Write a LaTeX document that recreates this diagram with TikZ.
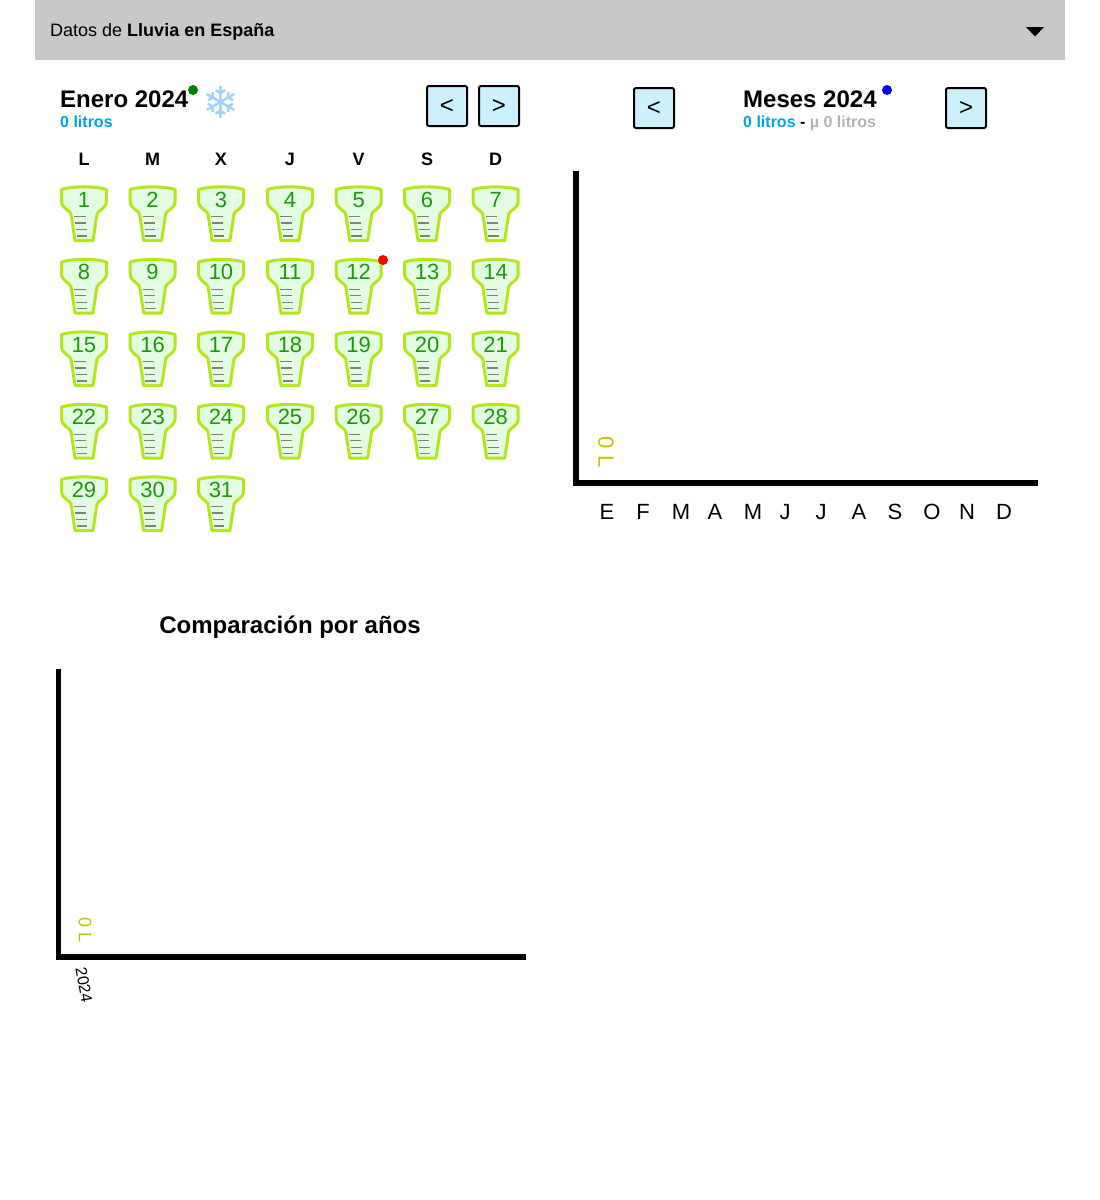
\documentclass[tikz,border=0pt]{standalone}
\usepackage{fontspec}
\setmainfont{Liberation Sans}
\newfontfamily\flakefont{DejaVu Sans}
\definecolor{headerGray}{HTML}{C8C8C8}
\definecolor{buttonBlue}{HTML}{CCF0FF}
\definecolor{litrosBlue}{HTML}{00A2E8}
\definecolor{mediaGray}{HTML}{B4B4B4}
\definecolor{glassLine}{HTML}{B5E61D}
\definecolor{glassFill}{HTML}{E3FDE3}
\definecolor{dayGreen}{HTML}{1A9A0A}
\definecolor{axisYellow}{HTML}{C3C300}
\definecolor{flakeBlue}{HTML}{A0D2F5}

\begin{document}
\begin{tikzpicture}
[x=1pt,y=-1pt,
  glassDecorate/.style={draw=glassLine,fill=glassFill,line width=3pt,line join=round},
  tickDecorate/.style={draw=black!50,line width=1.3pt},
  dayDecorate/.style={text=dayGreen,font=\fontsize{22}{24}\selectfont,inner sep=0pt},
  weekDecorate/.style={font=\bfseries\fontsize{18}{20}\selectfont,inner sep=0pt},
  buttonDecorate/.style={shape=rectangle,draw,fill=buttonBlue,line width=2pt,rounded corners=2pt,
    minimum width=40pt,minimum height=40pt,inner sep=0pt,font=\fontsize{24}{26}\selectfont},
  titleDecorate/.style={anchor=base west,inner sep=0pt,font=\bfseries\fontsize{24}{26}\selectfont},
  litrosDecorate/.style={anchor=base west,inner sep=0pt,font=\bfseries\fontsize{16}{18}\selectfont},
  monthDecorate/.style={inner sep=0pt,font=\fontsize{22}{24}\selectfont},
  axisDecorate/.style={draw,line width=6pt,line join=miter},
  zeroDecorate/.style={text=axisYellow,inner sep=0pt,rotate=-90}]
\useasboundingbox (0,0) rectangle (1100,1200);
%% header
\fill[headerGray] (35,0) rectangle (1065,60);
\node (header) at (50,36) [anchor=base west,inner sep=0pt,font=\fontsize{18}{20}\selectfont]
  {Datos de \textbf{Lluvia en España}};
\fill (1026,27) -- (1044,27) -- (1035,36.5) -- cycle;
%% january title
\node (enero) at (60,107) [titleDecorate] {Enero 2024};
\node (eneroLitros) at (60,127) [litrosDecorate,text=litrosBlue] {0 litros};
\fill[green!50!black] (193,90) circle (5);
\node (flake) at (221,102) [inner sep=0pt,text=flakeBlue,font=\flakefont\fontsize{44}{46}\selectfont] {❄};
\node (eneroPrev) at (447,106) [buttonDecorate] {\raisebox{-3pt}{<}};
\node (eneroNext) at (499,106) [buttonDecorate] {\raisebox{-3pt}{>}};
%% weekdays
\foreach \weekname/\x in {L/84, M/152.6, X/221, J/290, V/358.7, S/427, D/495.7}
{
  \node (week\weekname\x) at (\x,159) [weekDecorate] {\weekname};
}
%% glasses of the calendar
\foreach \daynum/\x/\y in {
  1/84/186, 2/152.6/186, 3/221/186, 4/290/186, 5/358.7/186, 6/427/186, 7/495.7/186,
  8/84/258.5, 9/152.6/258.5, 10/221/258.5, 11/290/258.5, 12/358.7/258.5, 13/427/258.5, 14/495.7/258.5,
  15/84/331, 16/152.6/331, 17/221/331, 18/290/331, 19/358.7/331, 20/427/331, 21/495.7/331,
  22/84/403.5, 23/152.6/403.5, 24/221/403.5, 25/290/403.5, 26/358.7/403.5, 27/427/403.5, 28/495.7/403.5,
  29/84/476, 30/152.6/476, 31/221/476}
{
  \begin{scope}[shift={(\x,\y)}]
    \draw[glassDecorate] (-9,54.5) -- (-13,28) .. controls (-14,24) and (-22.5,23) .. (-22.5,15)
      -- (-22.5,3.5) .. controls (-12,0) and (12,0) .. (22.5,3.5) -- (22.5,15)
      .. controls (22.5,23) and (14,24) .. (13,28) -- (9,54.5) -- cycle;
    \draw[tickDecorate] (-9.7,30.7) -- (1.7,30.7) (-9,37) -- (2.3,37) (-8,43.7) -- (2.8,43.7) (-7.3,50) -- (3.3,50);
    \node (\daynum) at (0,13.6) [dayDecorate] {\daynum};
  \end{scope}
}
\fill[red] (383,260) circle (5);
%% months title
\node (mesPrev) at (654,108) [buttonDecorate] {\raisebox{-3pt}{<}};
\node (mesNext) at (966,108) [buttonDecorate] {\raisebox{-3pt}{>}};
\node (meses) at (743,107) [titleDecorate] {Meses 2024};
\node (mesLitros) at (743,127) [litrosDecorate]
  {\textcolor{litrosBlue}{0 litros} - \textcolor{mediaGray}{µ 0 litros}};
\fill[blue] (887,90) circle (5);
%% months chart
\coordinate (mesTop) at (576,171);
\coordinate (mesCorner) at (576,483);
\coordinate (mesEnd) at (1038,483);
\draw[axisDecorate] (mesTop) -- (mesCorner) -- (mesEnd);
\node (mesZero) at (606,452) [zeroDecorate,font=\fontsize{22}{24}\selectfont] {0 L};
\foreach \monthname/\x in {E/607, F/643, M/681, A/715, M/753, J/785, J/821, A/859, S/895, O/932, N/967, D/1004}
{
  \node (month\x) at (\x,512) [monthDecorate] {\monthname};
}
%% years chart
\node (comparacion) at (290,627) [inner sep=0pt,font=\bfseries\fontsize{24}{26}\selectfont] {Comparación por años};
\coordinate (yearTop) at (58.5,669);
\coordinate (yearCorner) at (58.5,957);
\coordinate (yearEnd) at (526,957);
\draw[axisDecorate,line width=5.5pt] (yearTop) -- (yearCorner) -- (yearEnd);
\node (yearZero) at (85,930) [zeroDecorate,font=\fontsize{18}{20}\selectfont] {0 L};
\node (year2024) at (84,985) [inner sep=0pt,rotate=-80,font=\fontsize{16}{18}\selectfont] {2024};
\end{tikzpicture}
\end{document}
